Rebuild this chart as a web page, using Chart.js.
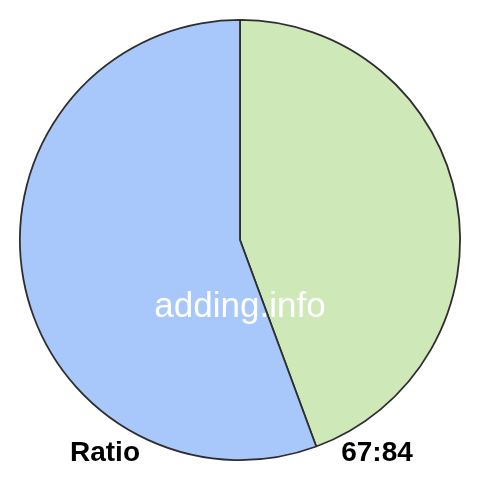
<!DOCTYPE html>
<html>
<head>
<meta charset="utf-8">
<script src="https://cdn.jsdelivr.net/npm/chart.js@4/dist/chart.umd.min.js"></script>
<style>
  html, body { margin: 0; padding: 0; background: #ffffff; }
  #ratio_canvas { display: block; }
</style>
</head>
<body>
<canvas id="ratio_canvas" width="480" height="480"></canvas>
<script>
const sliceLabels = ['67', '84'];
const sliceValues = [67, 84];
const sliceColors = ['#cfe8b8', '#a8c8fc'];
const leftCaption = 'Ratio';
const rightCaption = sliceValues.join(':');
const watermark = 'adding.info';

// captions and watermark drawn on top of the pie
const captionPlugin = {
    id: 'captions',
    afterDraw(chart) {
        const ctx = chart.ctx;
        ctx.save();
        ctx.textAlign = 'center';
        ctx.textBaseline = 'alphabetic';

        ctx.fillStyle = '#ffffff';
        ctx.font = '35px "Liberation Sans", Arial, sans-serif';
        ctx.fillText(watermark, 240, 317);

        ctx.fillStyle = '#000000';
        ctx.font = 'bold 28px "Liberation Sans", Arial, sans-serif';
        ctx.fillText(leftCaption, 105, 461);
        ctx.fillText(rightCaption, 377, 461);
        ctx.restore();
    }
};

new Chart(document.getElementById('ratio_canvas'), {
    type: 'pie',
    data: {
        labels: sliceLabels,
        datasets: [{
            data: sliceValues,
            backgroundColor: sliceColors,
            borderColor: '#2e2e2e',
            borderWidth: 1.8
        }]
    },
    options: {
        responsive: false,
        animation: false,
        layout: { padding: 19 },
        plugins: {
            legend: { display: false },
            tooltip: { enabled: false }
        }
    },
    plugins: [captionPlugin]
});
</script>
</body>
</html>
